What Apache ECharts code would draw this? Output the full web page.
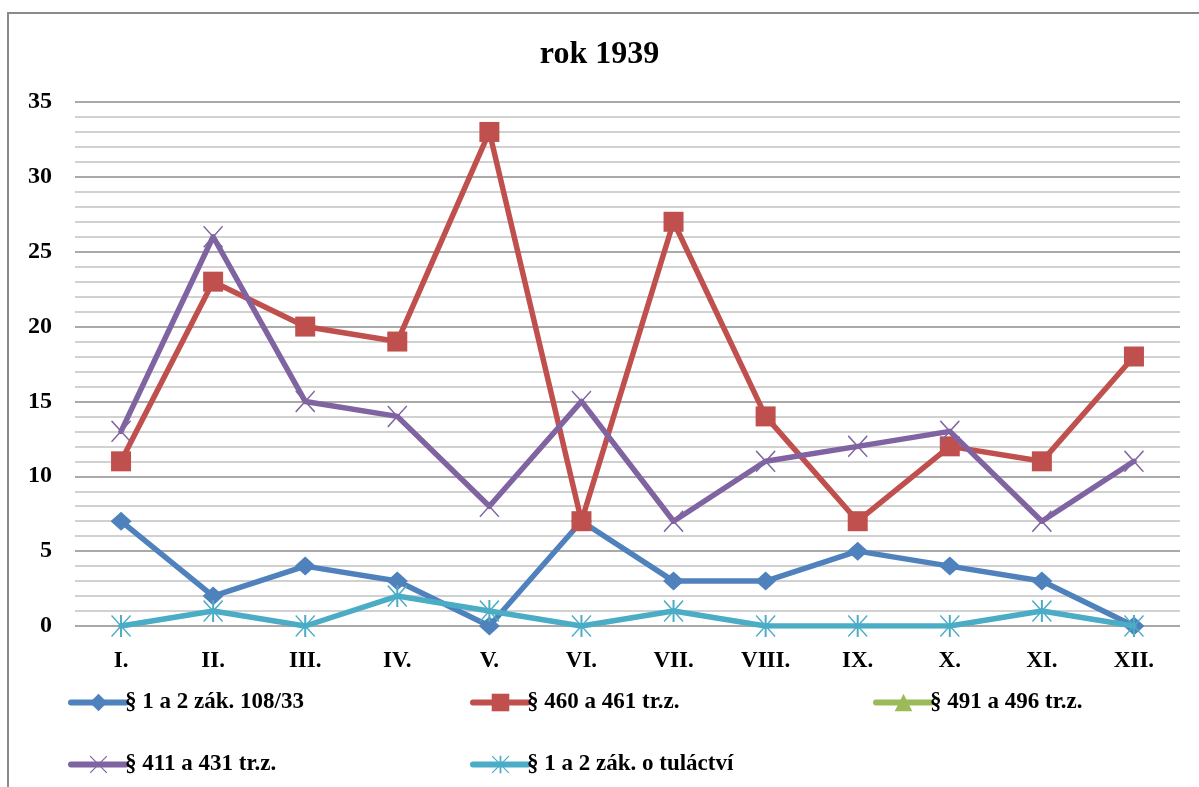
<!DOCTYPE html>
<html>
<head>
<meta charset="utf-8">
<script src="https://cdn.jsdelivr.net/npm/echarts@6/dist/echarts.min.js"></script>
<style>
html,body{margin:0;padding:0;background:#fff;}
#main{width:1199px;height:787px;}
</style>
</head>
<body>
<div id="main"></div>
<script>
var titleText = 'rok 1939';
var categories = ['I.','II.','III.','IV.','V.','VI.','VII.','VIII.','IX.','X.','XI.','XII.'];
var seriesNames = ['§ 1 a 2 zák. 108/33','§ 460 a 461 tr.z.','§ 491 a 496 tr.z.','§ 411 a 431 tr.z.','§ 1 a 2 zák. o tuláctví'];
var s1 = [7,2,4,3,0,7,3,3,5,4,3,0];
var s2 = [11,23,20,19,33,7,27,14,7,12,11,18];
var s3 = [null,null,null,null,null,null,null,null,null,null,null,null];
var s4 = [13,26,15,14,8,15,7,11,12,13,7,11];
var s5 = [0,1,0,2,1,0,1,0,0,0,1,0];
var yMin = 0, yMax = 35, yStep = 5;

var FONT = '"Liberation Serif","Times New Roman",serif';
var colors = ['#4F81BD','#C0504D','#9BBB59','#8064A2','#4BACC6'];
var xPath = 'path://M0,5 L5,0 L100,95 L95,100 Z M95,0 L100,5 L5,100 L0,95 Z';
var starPath = 'path://M0,5 L5,0 L100,95 L95,100 Z M95,0 L100,5 L5,100 L0,95 Z M45,0 L55,0 L55,100 L45,100 Z';
var symbols = ['diamond','rect','triangle',xPath,starPath];
var sizes = [[21,19],20,18,[20,22],[20,22]];
var datas = [s1,s2,s3,s4,s5];

var series = datas.map(function(d,i){
  return {
    name: seriesNames[i], type:'line', data:d,
    symbol: symbols[i], symbolSize: sizes[i], showAllSymbol:true,
    lineStyle:{width:5.5,color:colors[i],cap:'round',join:'round'},
    itemStyle:{color:colors[i]},
    emphasis:{disabled:true}, animation:false, z: 2+i
  };
});

function legend(i,left,top){
  return {
    data:[seriesNames[i]], left:left, top:top, orient:'horizontal',
    itemWidth:55, itemHeight:22, itemGap:0, selectedMode:false,
    lineStyle:{width:6, cap:'round'},
    textStyle:{fontFamily:FONT, fontWeight:'bold', fontSize:23, color:'#000', padding:[0,0,0,-6]}
  };
}

var chart = echarts.init(document.getElementById('main'));
chart.setOption({
  backgroundColor:'#fff',
  animation:false,
  color: colors,
  title:{text:titleText, left:'center', top:34, textStyle:{fontFamily:FONT, fontWeight:'bold', fontSize:32, color:'#000'}},
  graphic:[{type:'rect', shape:{x:8,y:13,width:1400,height:1000}, style:{fill:'none', stroke:'#8a8a8a', lineWidth:2}, silent:true, z:-1}],
  grid:{left:75, right:19, top:102, bottom:161, containLabel:false},
  xAxis:{type:'category', data:categories, boundaryGap:true,
    axisLine:{show:false}, axisTick:{show:false}, splitLine:{show:false},
    axisLabel:{fontFamily:FONT, fontWeight:'bold', fontSize:23, color:'#000', margin:24}},
  yAxis:{type:'value', min:yMin, max:yMax, interval:yStep,
    axisLine:{show:false}, axisTick:{show:false},
    axisLabel:{fontFamily:FONT, fontWeight:'bold', fontSize:24, color:'#000', margin:23},
    splitLine:{show:true, lineStyle:{color:'#8c8c8c', width:1.5}},
    minorTick:{show:false, splitNumber:5},
    minorSplitLine:{show:true, lineStyle:{color:'#c2c2c2', width:1.5}}},
  legend:[legend(0,63,686), legend(1,465,686), legend(2,868,686), legend(3,63,748), legend(4,465,748)],
  series: series
});
</script>
</body>
</html>
